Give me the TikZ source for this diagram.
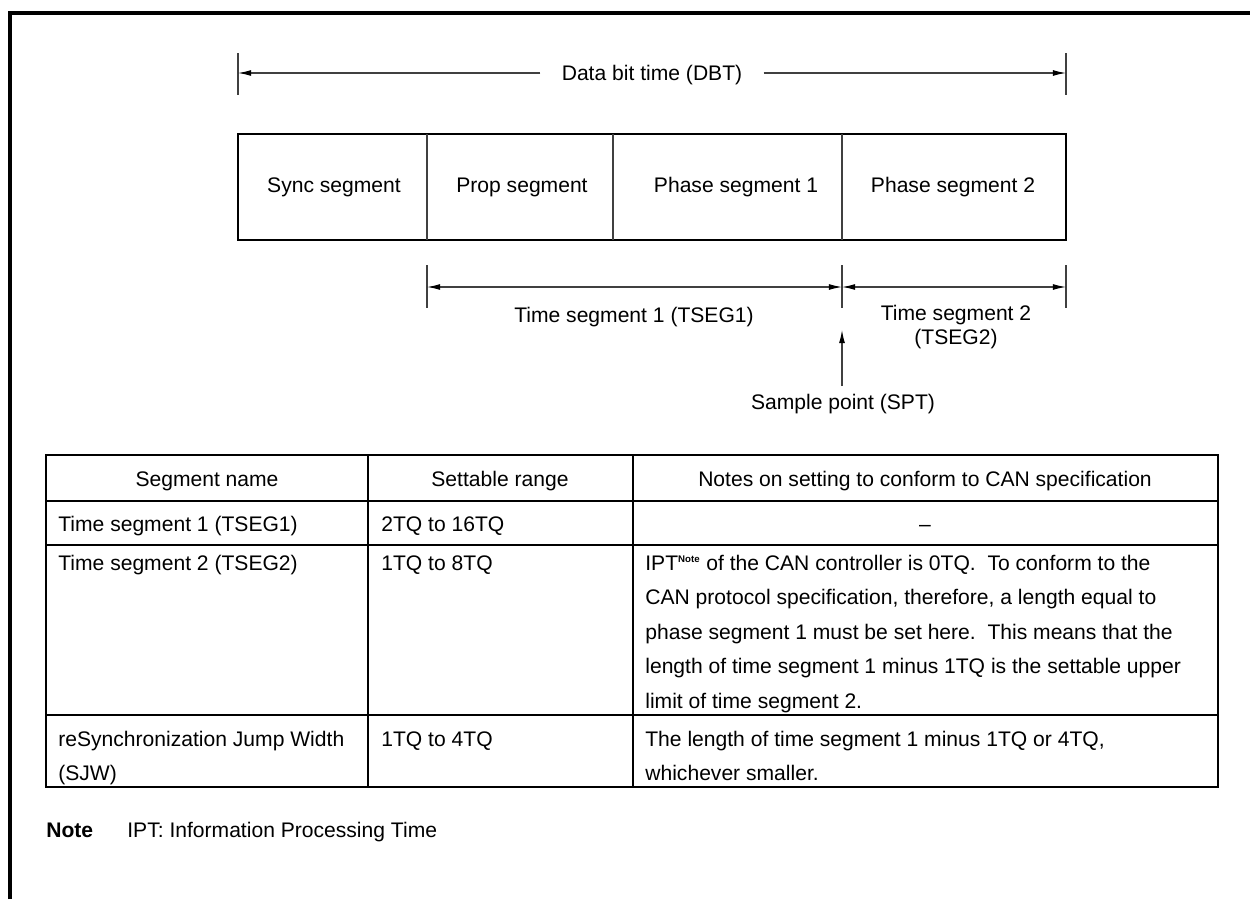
\documentclass[tikz,border=0pt]{standalone}
\usepackage{fontspec}
\setmainfont{Liberation Sans}
\usetikzlibrary{arrows.meta}
\begin{document}
\begin{tikzpicture}[x=0.02cm,y=-0.02cm,
  txt/.style={inner sep=0pt, anchor=base, font=\fontsize{12}{14}\selectfont},
  ltxt/.style={txt, anchor=base west},
  thinl/.style={line width=0.6pt, draw=black!75},
  tip/.tip={Latex[length=7.5pt,width=3.4pt,black]},
  dimarr/.style={thinl, tip-tip},
  onearr/.style={thinl, -tip},
  frameline/.style={line width=2pt},
  boxl/.style={line width=1.3pt},
  tabl/.style={line width=1.2pt}]
\useasboundingbox (0,0) rectangle (1250,899);
% outer frame
\draw[frameline] (10,899) -- (10,13) -- (1250,13);

% data bit time
\coordinate (dL) at (238,73);
\coordinate (dR) at (1066,73);
\draw[thinl] (238,53) -- (238,95);
\draw[thinl] (1066,53) -- (1066,95);
\node[txt, inner xsep=12pt] (dbt) at (652,80.5) {Data bit time (DBT)};
\draw[onearr] (dbt.west |- dL) -- (dL);
\draw[onearr] (dbt.east |- dR) -- (dR);

% segment box
\draw[boxl] (238,134) rectangle (1066,240);
\draw[thinl] (427,134) -- (427,240);
\draw[thinl] (613,134) -- (613,240);
\draw[thinl] (842,134) -- (842,240);
\node[txt] (sync) at (334,192.5) {Sync segment};
\node[txt] (prop) at (522,192.5) {Prop segment};
\node[txt] (ph1) at (736,192.5) {Phase segment 1};
\node[txt] (ph2) at (953,192.5) {Phase segment 2};

% TSEG dimensions
\coordinate (t1L) at (427,287);
\coordinate (t1R) at (842,287);
\coordinate (t2R) at (1066,287);
\draw[thinl] (427,265) -- (427,308);
\draw[thinl] (842,265) -- (842,308);
\draw[thinl] (1066,265) -- (1066,308);
\draw[dimarr] (t1L) -- (t1R);
\draw[dimarr] (t1R) -- (t2R);
\node[txt] (tseg1) at (634,322) {Time segment 1 (TSEG1)};
\node[txt] (tseg2a) at (956,320) {Time segment 2};
\node[txt] (tseg2b) at (956,344) {(TSEG2)};

% sample point
\coordinate (spTip) at (842,330);
\coordinate (spBot) at (842,386);
\node[txt] (spt) at (843,409) {Sample point (SPT)};
\draw[onearr] (spBot) -- (spTip);

% table
\draw[tabl] (46,455) rectangle (1218,787);
\draw[tabl] (46,501) -- (1218,501);
\draw[tabl] (46,545) -- (1218,545);
\draw[tabl] (46,715) -- (1218,715);
\draw[tabl] (368,455) -- (368,787);
\draw[tabl] (633,455) -- (633,787);

\node[txt] (h1) at (207,486) {Segment name};
\node[txt] (h2) at (500,486) {Settable range};
\node[txt] (h3) at (925,486) {Notes on setting to conform to CAN specification};

\node[ltxt] (r1a) at (58,531) {Time segment 1 (TSEG1)};
\node[ltxt] (r1b) at (381,531) {2TQ to 16TQ};
\node[txt] (r1c) at (925,531) {–};

\node[ltxt] (r2a) at (58,570) {Time segment 2 (TSEG2)};
\node[ltxt] (r2b) at (381,570) {1TQ to 8TQ};
\node[ltxt] (r2c1) at (645,570) {IPT\textsuperscript{\fontsize{5.5}{6}\selectfont\bfseries Note} of the CAN controller is 0TQ.\ \ To conform to the};
\node[ltxt] (r2c2) at (645,604.5) {CAN protocol specification, therefore, a length equal to};
\node[ltxt] (r2c3) at (645,639) {phase segment 1 must be set here.\ \ This means that the};
\node[ltxt] (r2c4) at (645,673.5) {length of time segment 1 minus 1TQ is the settable upper};
\node[ltxt] (r2c5) at (645,708) {limit of time segment 2.};

\node[ltxt] (r3a1) at (58,746) {reSynchronization Jump Width};
\node[ltxt] (r3a2) at (58,780) {(SJW)};
\node[ltxt] (r3b) at (381,746) {1TQ to 4TQ};
\node[ltxt] (r3c1) at (645,746) {The length of time segment 1 minus 1TQ or 4TQ,};
\node[ltxt] (r3c2) at (645,780) {whichever smaller.};

% note
\node[ltxt, font=\fontsize{12}{14}\selectfont\bfseries] (noteh) at (46,837) {Note};
\node[ltxt] (notet) at (127,837) {IPT: Information Processing Time};
\end{tikzpicture}
\end{document}
